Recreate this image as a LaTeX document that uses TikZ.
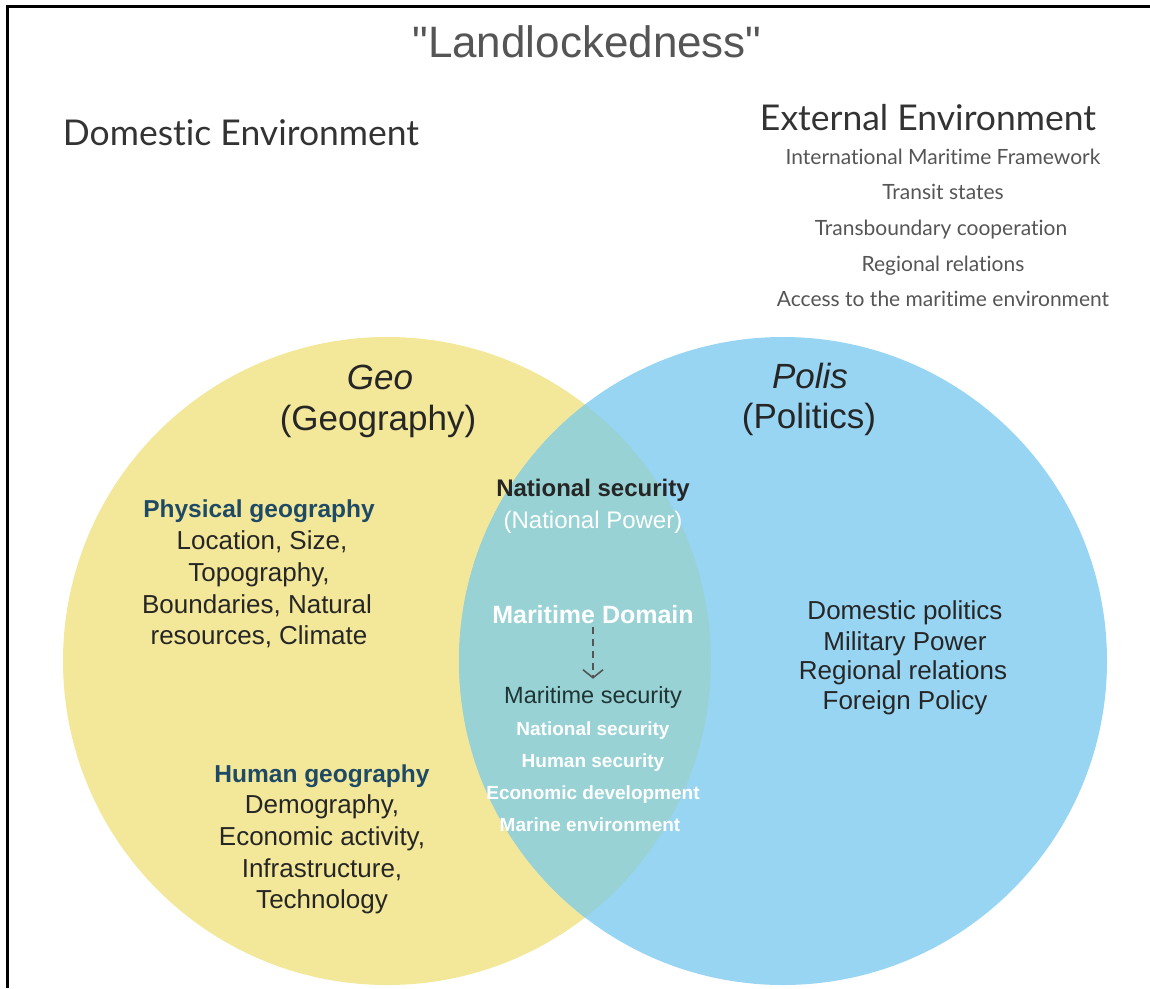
\documentclass[tikz,border=0pt]{standalone}
\usepackage{fontspec}
\setmainfont{Liberation Sans}
\newfontfamily\latofont[Ligatures=NoCommon]{Lato}
\usetikzlibrary{arrows.meta}

\definecolor{geoyellow}{HTML}{F3E89A}
\definecolor{polisblue}{HTML}{98D5F3}
\definecolor{overlapteal}{HTML}{98D2D5}
\definecolor{titlegrey}{HTML}{555555}
\definecolor{headgrey}{HTML}{333333}
\definecolor{listgrey}{HTML}{555555}
\definecolor{headteal}{HTML}{1E4A66}
\definecolor{bodyink}{HTML}{262626}
\definecolor{arrowgrey}{HTML}{555555}

\newcommand{\fsz}[1]{\fontsize{#1}{#1}\selectfont}
% straight double quote glyph, set directly so no input mapping curls it
\newcommand{\straightdq}{\XeTeXglyph\XeTeXcharglyph"22\relax}

\begin{document}
\begin{tikzpicture}[x=1pt,y=-1pt,
  txt/.style={anchor=base, inner sep=0pt, align=center},
  body/.style={txt, font=\fsz{26}, text=bodyink},
  subhead/.style={txt, font=\bfseries\fsz{24.5}, text=headteal},
  listitem/.style={txt, font=\latofont\fsz{21}, text=listgrey},
  envhead/.style={txt, font=\latofont\fsz{35.5}, text=headgrey},
  whiteitem/.style={txt, font=\bfseries\fsz{19}, text=white},
  flowarrow/.style={draw=arrowgrey, line width=2.2pt, dash pattern=on 7pt off 5pt,
    -{Straight Barb[length=8pt,width=20pt,line width=1.6pt]}}
]
\useasboundingbox (0,0) rectangle (1150,988);

% the two sets and their overlap
\fill[geoyellow] (387,661) circle[radius=324pt];
\fill[polisblue] (783,661) circle[radius=324pt];
\begin{scope}
  \clip (387,661) circle[radius=324pt];
  \fill[overlapteal] (783,661) circle[radius=324pt];
\end{scope}

% frame on the top and left sides
\draw[line width=3pt] (7,988) -- (7,6.5) -- (1150,6.5);

% title and environment headings
\node[txt, font=\fsz{44}, text=titlegrey] (title) at (587,57) {\straightdq Landlockedness\straightdq};
\node[envhead] (domestic) at (241,145) {Domestic Environment};
\node[envhead] (external) at (928,130) {External Environment};
\node[listitem] (ext1) at (943,164) {International Maritime Framework};
\node[listitem] (ext2) at (943,199) {Transit states};
\node[listitem] (ext3) at (941,235) {Transboundary cooperation};
\node[listitem] (ext4) at (943,271) {Regional relations};
\node[listitem] (ext5) at (943,306) {Access to the maritime environment};

% set titles
\node[txt, font=\itshape\fsz{35}, text=bodyink] (geo) at (380,389) {Geo};
\node[txt, font=\fsz{35}, text=bodyink] (geoname) at (378,430) {(Geography)};
\node[txt, font=\itshape\fsz{35}, text=bodyink] (polis) at (810,388) {Polis};
\node[txt, font=\fsz{35}, text=bodyink] (polisname) at (809,428) {(Politics)};

% geography content
\node[subhead] (physhead) at (259,517) {Physical geography};
\node[body] (phys1) at (262,549) {Location, Size,};
\node[body] (phys2) at (259,581) {Topography,};
\node[body] (phys3) at (257,613) {Boundaries, Natural};
\node[body] (phys4) at (259,644) {resources, Climate};

\node[subhead] (humhead) at (322,782) {Human geography};
\node[body] (hum1) at (322,813) {Demography,};
\node[body] (hum2) at (322,845) {Economic activity,};
\node[body] (hum3) at (322,877) {Infrastructure,};
\node[body] (hum4) at (322,908) {Technology};

% politics content
\node[body] (pol1) at (905,619) {Domestic politics};
\node[body] (pol2) at (905,650) {Military Power};
\node[body] (pol3) at (903,679) {Regional relations};
\node[body] (pol4) at (905,709) {Foreign Policy};

% overlap content
\node[txt, font=\bfseries\fsz{24}, text=bodyink] (natsec) at (593,496) {National security};
\node[txt, font=\fsz{24}, text=white] (natpow) at (593,528) {(National Power)};
\node[txt, font=\bfseries\fsz{25}, text=white] (mdom) at (593,623) {Maritime Domain};
\node[txt, font=\fsz{23.5}, text=bodyink!85!teal] (msec) at (593,703) {Maritime security};
\node[whiteitem] (ms1) at (593,735) {National security};
\node[whiteitem] (ms2) at (593,767) {Human security};
\node[whiteitem] (ms3) at (593,799) {Economic development};
\node[whiteitem] (ms4) at (590,831) {Marine environment};

\draw[flowarrow, shorten <=4pt, shorten >=7pt] (mdom.south) -- (msec.north);
\end{tikzpicture}
\end{document}
